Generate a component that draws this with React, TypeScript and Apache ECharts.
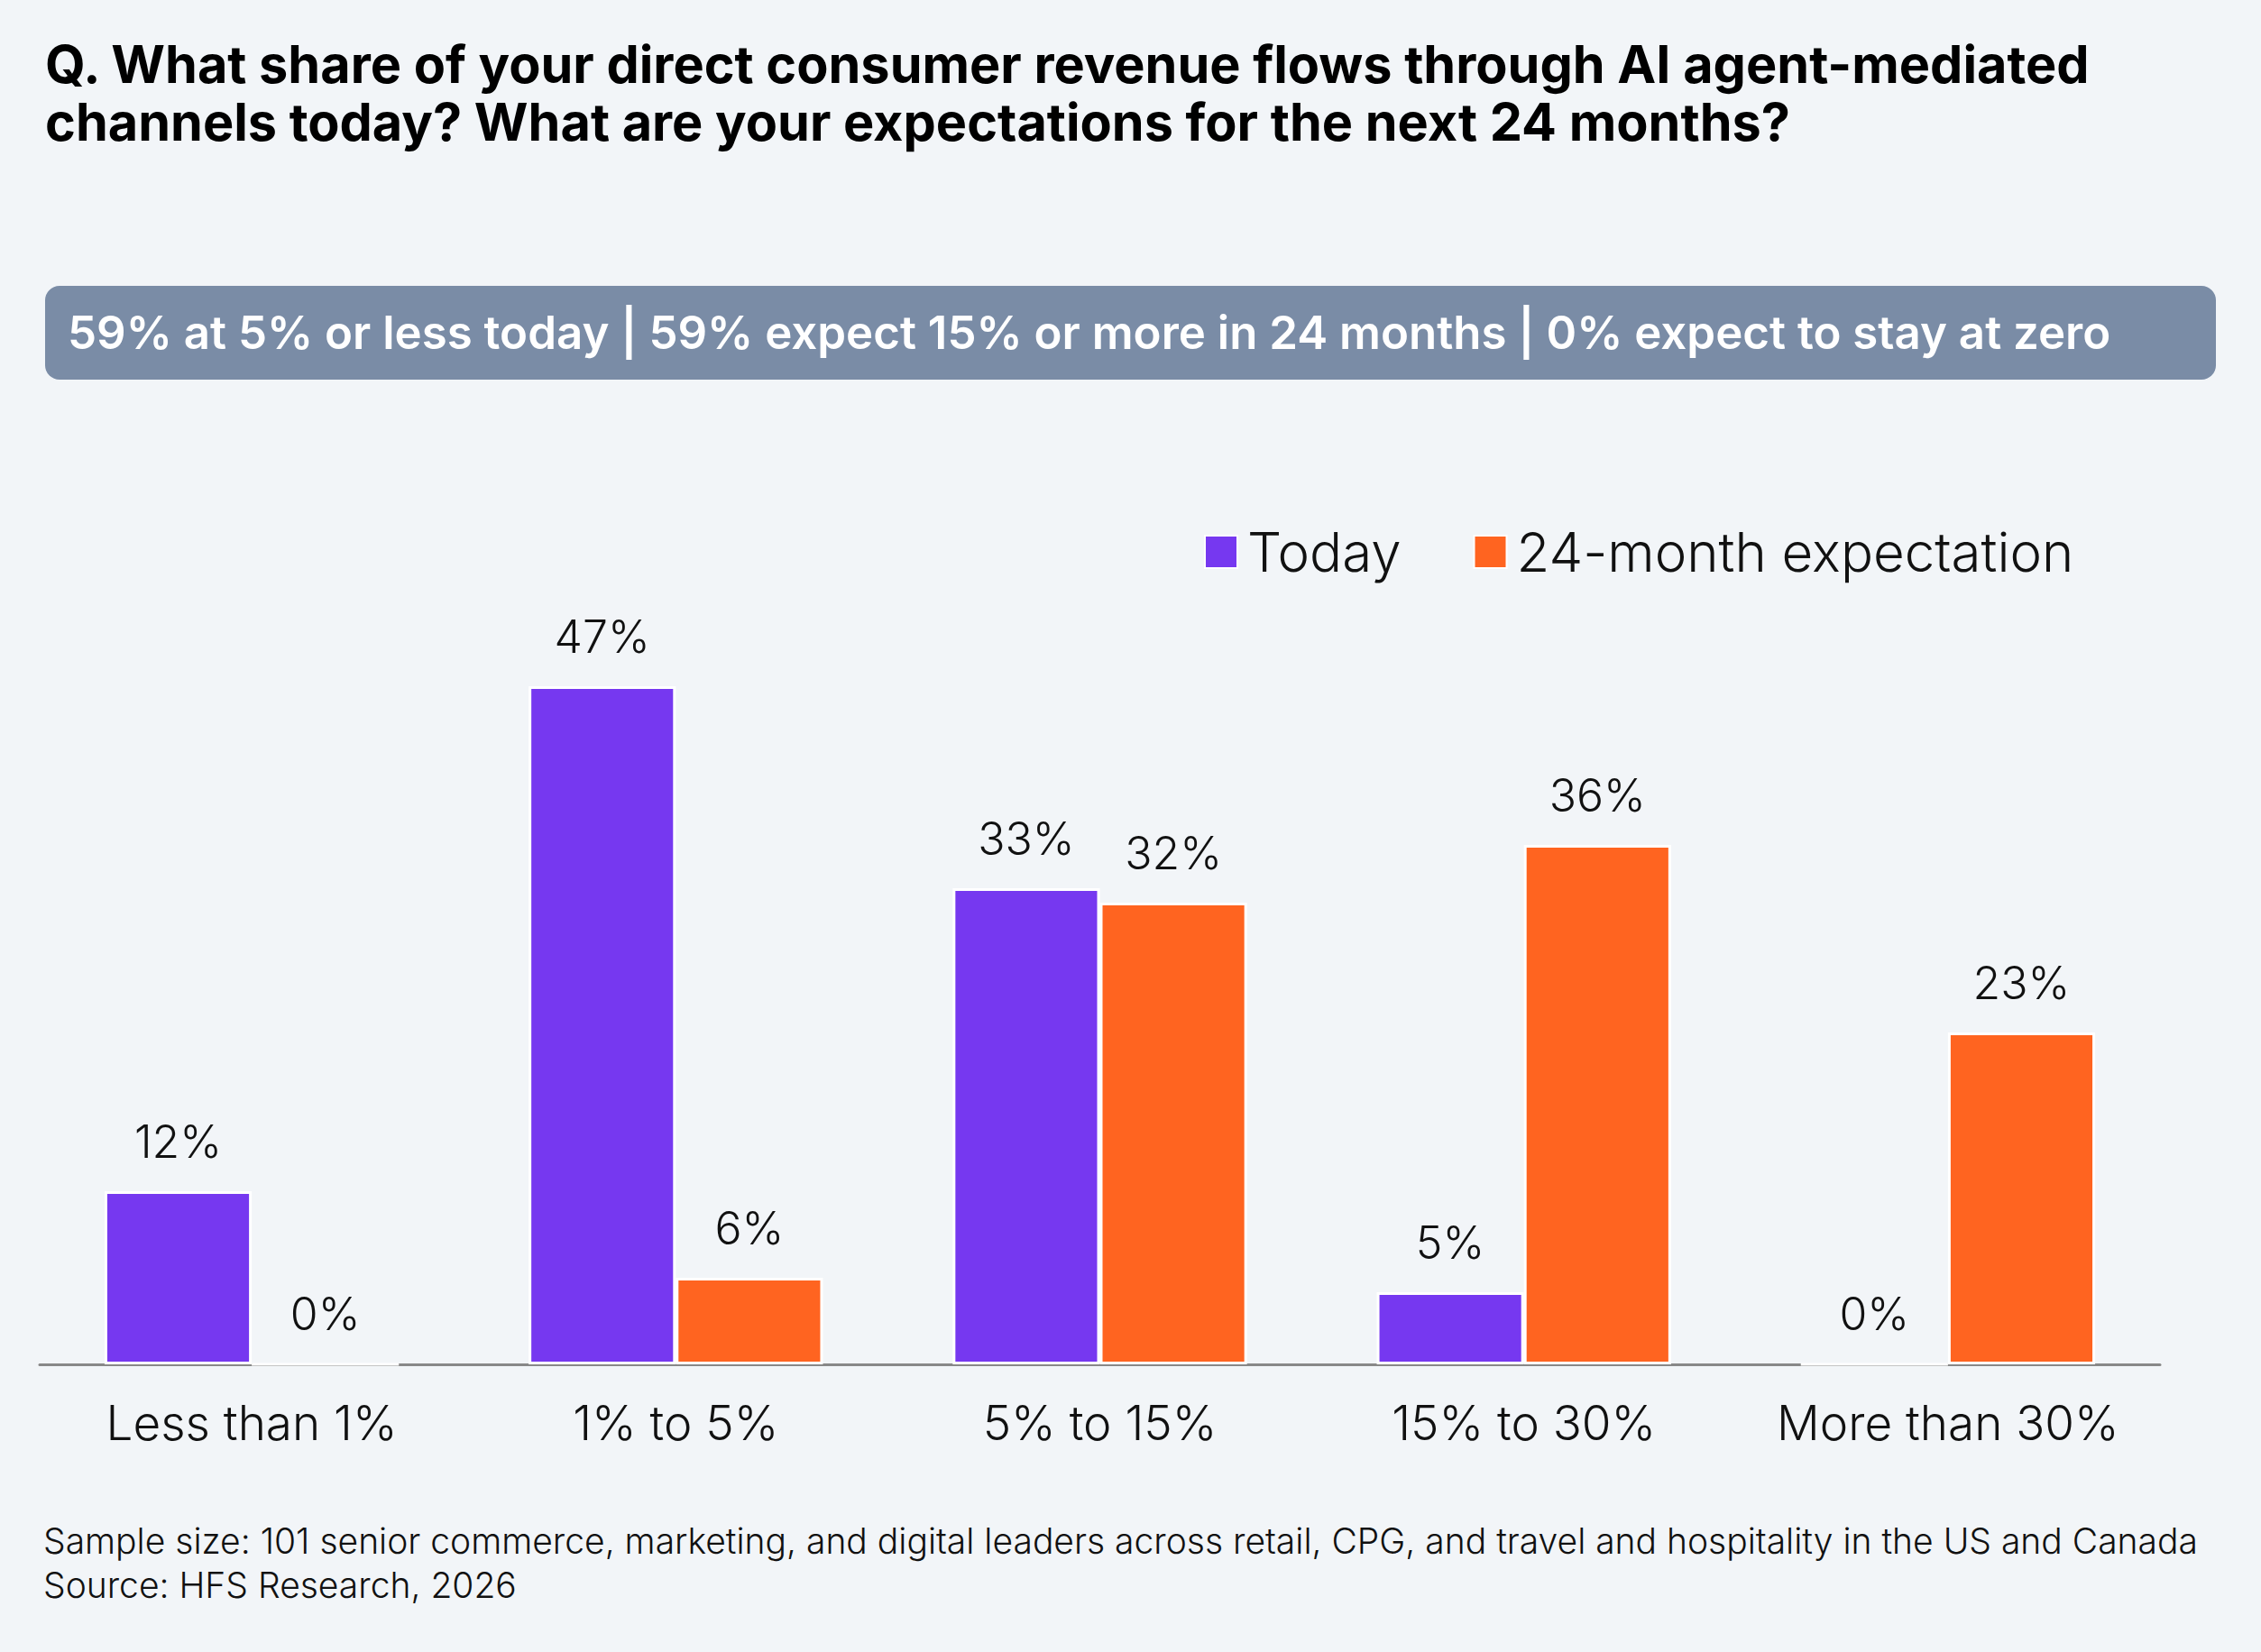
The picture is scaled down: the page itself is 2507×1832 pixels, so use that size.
import React, { useEffect, useRef } from "react";
import * as echarts from "echarts";

const categories = ["Less than 1%", "1% to 5%", "5% to 15%", "15% to 30%", "More than 30%"];
const seriesNames = ["Today", "24-month expectation"];
const todayValues = [12, 47, 33, 5, 0];
const expectationValues = [0, 6, 32, 36, 23];
const titleLines = [
  "Q. What share of your direct consumer revenue flows through AI agent-mediated",
  "channels today? What are your expectations for the next 24 months?",
];
const bannerText =
  "59% at 5% or less today | 59% expect 15% or more in 24 months | 0% expect to stay at zero";
const footerLines = [
  "Sample size: 101 senior commerce, marketing, and digital leaders across retail, CPG, and travel and hospitality in the US and Canada",
  "Source: HFS Research, 2026",
];

const FONT = "Inter, 'Noto Sans', sans-serif";
const PURPLE = "#7638F0";
const ORANGE = "#FF6420";

export default function App() {
  const ref = useRef<HTMLDivElement>(null);
  useEffect(() => {
    document.body.style.margin = "0";
    const chart = echarts.init(ref.current!, null, { renderer: "svg" });
    const labelCfg = {
      show: true,
      position: "top",
      distance: 30,
      fontFamily: FONT,
      fontWeight: 300,
      fontSize: 50,
      color: "#111",
      formatter: "{c}%",
    };
    chart.setOption({
      animation: false,
      backgroundColor: "#F2F5F8",
      textStyle: { fontFamily: FONT },
      legend: {
        left: 1330,
        top: 577,
        icon: "rect",
        itemWidth: 36,
        itemHeight: 36,
        itemGap: 80,
        textStyle: { fontFamily: FONT, fontWeight: 300, fontSize: 60, color: "#111", padding: [0, 0, 0, 6] },
        data: seriesNames,
      },
      grid: { left: 44, right: 112, top: 713, bottom: 319, containLabel: false },
      xAxis: {
        type: "category",
        data: categories,
        axisLine: { show: true, lineStyle: { color: "#888888", width: 3 } },
        axisTick: { show: false },
        axisLabel: {
          interval: 0,
          margin: 38,
          fontFamily: FONT,
          fontWeight: 300,
          fontSize: 53,
          color: "#111",
        },
      },
      yAxis: { type: "value", min: 0, max: 50, show: false, splitLine: { show: false } },
      series: [
        {
          name: seriesNames[0],
          type: "bar",
          data: todayValues,
          barGap: "0%",
          barCategoryGap: "30.6%",
          itemStyle: { color: PURPLE, borderColor: "#ffffff", borderWidth: 3 },
          label: labelCfg,
        },
        {
          name: seriesNames[1],
          type: "bar",
          data: expectationValues,
          itemStyle: { color: ORANGE, borderColor: "#ffffff", borderWidth: 3 },
          label: labelCfg,
        },
      ],
      graphic: [
        {
          type: "text",
          left: 50,
          top: 39,
          style: {
            text: titleLines.join("\n"),
            fontFamily: FONT,
            fontWeight: 700,
            fontSize: 57.6,
            lineHeight: 64,
            fill: "#000",
          },
        },
        {
          type: "rect",
          shape: { x: 50, y: 317, width: 2407, height: 104, r: 16 },
          style: { fill: "#7A8CA6" },
        },
        {
          type: "text",
          x: 75,
          y: 368,
          style: {
            text: bannerText,
            fontFamily: FONT,
            fontWeight: 600,
            fontSize: 51,
            fill: "#ffffff",
            verticalAlign: "middle",
          },
        },
        {
          type: "text",
          x: 48,
          y: 1708,
          style: {
            text: footerLines[0],
            fontFamily: FONT,
            fontWeight: 300,
            fontSize: 39,
            fill: "#111",
            verticalAlign: "middle",
          },
        },
        {
          type: "text",
          x: 48,
          y: 1757,
          style: {
            text: footerLines[1],
            fontFamily: FONT,
            fontWeight: 300,
            fontSize: 39,
            fill: "#111",
            verticalAlign: "middle",
          },
        },
      ],
    });
    return () => chart.dispose();
  }, []);
  return <div ref={ref} style={{ width: 2507, height: 1832 }} />;
}
